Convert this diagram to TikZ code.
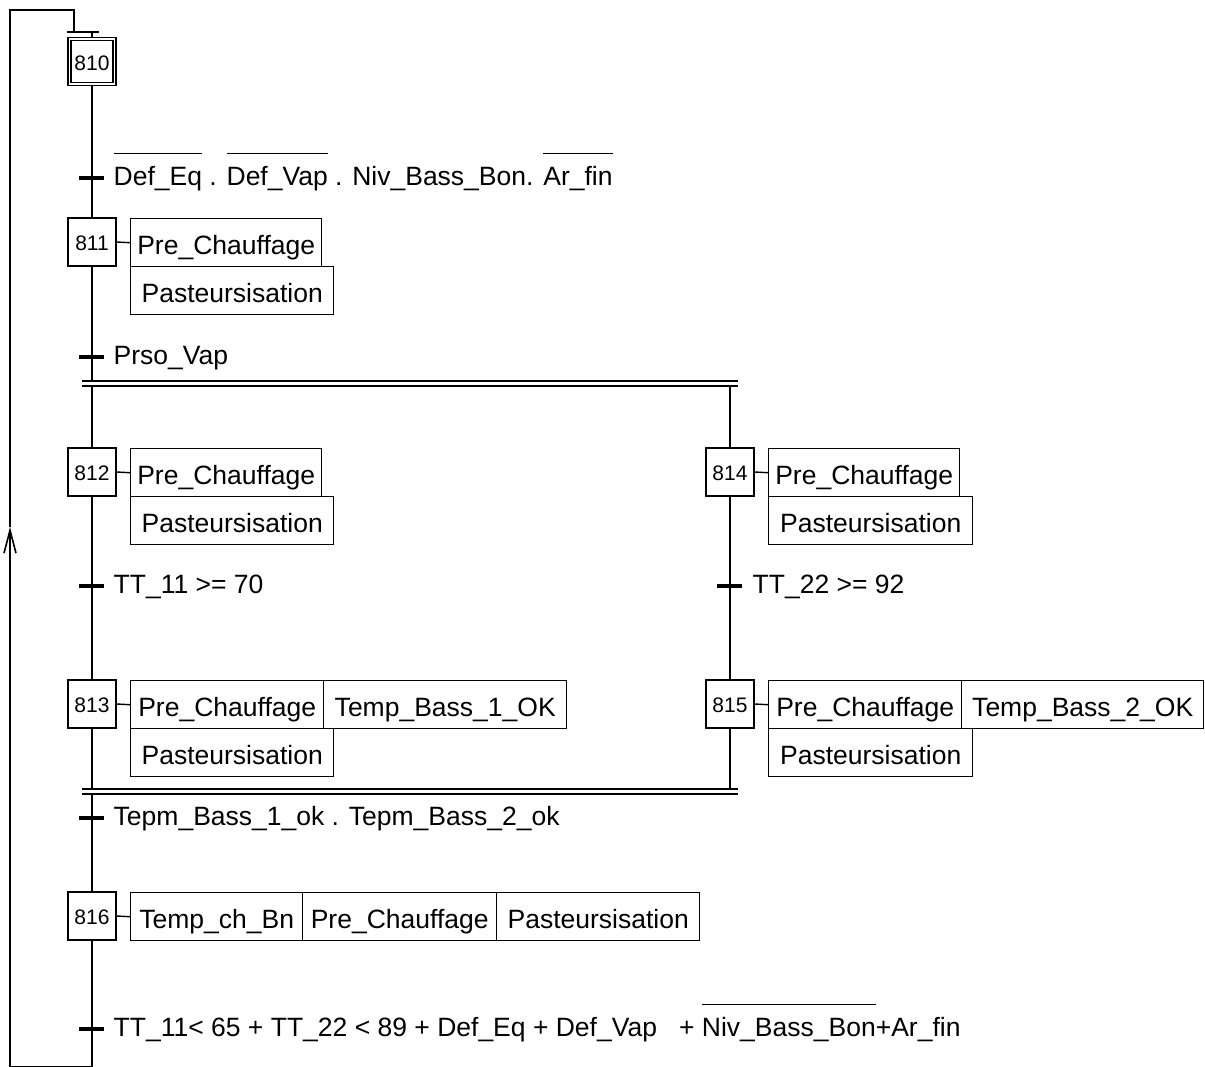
\documentclass[tikz,border=0pt]{standalone}
\usepackage{fontspec}
\setmainfont{Liberation Sans}
\usetikzlibrary{arrows.meta}
\newcommand\bigf{\fontsize{26.5}{30}\selectfont}
\newsavebox\ovlbox
\newcommand\ovl[1]{\sbox\ovlbox{#1}\rlap{\rule[31pt]{\wd\ovlbox}{1.1pt}}\usebox\ovlbox}
\begin{document}
\begin{tikzpicture}[x=1pt,y=-1pt,line width=1.4pt,
  stepbox/.style={draw,minimum width=48pt,minimum height=48pt,inner sep=0pt,text height=17pt,text depth=0pt,font=\fontsize{21}{23}\selectfont},
  actbox/.style={draw,anchor=north west,minimum height=48pt,inner sep=0pt,text height=26pt,text depth=2pt,font=\bigf},
  trtick/.style={line width=3.5pt},
  trlab/.style={anchor=base west,inner sep=0pt,font=\bigf},
  wire/.style={line width=1.6pt}]
\useasboundingbox (0,0) rectangle (1205,1066);
% steps
\node[stepbox,double,double distance=1.8pt,line width=1.2pt,minimum width=45pt,minimum height=45pt] (s810) at (92,61.5) {810};
\node[stepbox] (s811) at (92,242) {811};
\node[stepbox] (s812) at (92,472) {812};
\node[stepbox] (s814) at (730,472) {814};
\node[stepbox] (s813) at (92,704) {813};
\node[stepbox] (s815) at (730,704) {815};
\node[stepbox] (s816) at (92,916) {816};
% actions
\node[actbox,minimum width=191pt] (a811a) at (130,218) {Pre\_Chauffage};
\node[actbox,minimum width=203pt] (a811b) at (130,266) {Pasteursisation};
\node[actbox,minimum width=191pt] (a812a) at (130,448) {Pre\_Chauffage};
\node[actbox,minimum width=203pt] (a812b) at (130,496) {Pasteursisation};
\node[actbox,minimum width=191pt] (a814a) at (768,448) {Pre\_Chauffage};
\node[actbox,minimum width=204pt] (a814b) at (768,496) {Pasteursisation};
\node[actbox,minimum width=193pt] (a813a) at (130,680) {Pre\_Chauffage};
\node[actbox,minimum width=243pt] (a813c) at (323,680) {Temp\_Bass\_1\_OK};
\node[actbox,minimum width=203pt] (a813b) at (130,728) {Pasteursisation};
\node[actbox,minimum width=193pt] (a815a) at (768,680) {Pre\_Chauffage};
\node[actbox,minimum width=242pt] (a815c) at (961,680) {Temp\_Bass\_2\_OK};
\node[actbox,minimum width=204pt] (a815b) at (768,728) {Pasteursisation};
\node[actbox,minimum width=172pt] (a816a) at (130,892) {Temp\_ch\_Bn};
\node[actbox,minimum width=194pt] (a816b) at (302,892) {Pre\_Chauffage};
\node[actbox,minimum width=203pt] (a816c) at (496,892) {Pasteursisation};
\foreach \s in {811,812,814,813,815,816} \draw (s\s.east) -- (a\s a.west);
% coordinates
\coordinate (top) at (92,32);
\coordinate (barL) at (67,32);
\coordinate (barR) at (99,32);
\coordinate (t1) at (92,178);
\coordinate (t2) at (92,357);
\coordinate (dv1) at (92,381);
\coordinate (dvL) at (82,381);
\coordinate (dvR) at (738,381);
\coordinate (dvL2) at (82,386);
\coordinate (dvR2) at (738,386);
\coordinate (db1) at (92,386);
\coordinate (db2) at (730,386);
\coordinate (t3) at (92,586);
\coordinate (t4) at (730,586);
\coordinate (cv1) at (92,789);
\coordinate (cv2) at (730,789);
\coordinate (cvL) at (82,789);
\coordinate (cvR) at (738,789);
\coordinate (cvL2) at (82,794);
\coordinate (cvR2) at (738,794);
\coordinate (cvo) at (92,794);
\coordinate (t5) at (92,818);
\coordinate (t6) at (92,1029);
\coordinate (lpB) at (92,1066.6);
\coordinate (lpL) at (10,1066.6);
\coordinate (arr) at (10,527);
\coordinate (ltL) at (10,10);
\coordinate (ltR) at (74,10);
\coordinate (ltB) at (74,32);
% links
\draw[line width=1.8pt] (barL) -- (barR);
\draw[wire] (top) -- (s810);
\draw[wire] (s810) -- (t1) -- (s811);
\draw[wire] (s811) -- (t2) -- (dv1);
\draw (dvL) -- (dvR);
\draw (dvL2) -- (dvR2);
\draw[wire] (db1) -- (s812);
\draw[wire] (db2) -- (s814);
\draw[wire] (s812) -- (t3) -- (s813);
\draw[wire] (s814) -- (t4) -- (s815);
\draw[wire] (s813) -- (cv1);
\draw[wire] (s815) -- (cv2);
\draw (cvL) -- (cvR);
\draw (cvL2) -- (cvR2);
\draw[wire] (cvo) -- (t5) -- (s816);
\draw[wire] (s816) -- (t6) -- (lpB) -- (lpL);
\draw[wire,-{Straight Barb[length=23pt,width=12pt]}] (lpL) -- (arr);
\draw[wire] (arr) -- (ltL) -- (ltR) -- (ltB);
% transition ticks
\foreach \t in {t1,t2,t3,t4,t5,t6} \draw[trtick] ([xshift=-13pt]\t) -- ([xshift=12pt]\t);
% transition labels
\node[trlab] (l1) at (113,185) {\ovl{Def\_Eq} . \ovl{Def\_Vap} . Niv\_Bass\_Bon. \ovl{Ar\_fin}};
\node[trlab] (l2) at (113,364) {Prso\_Vap};
\node[trlab] (l3) at (113,593) {TT\_11 >= 70};
\node[trlab] (l4) at (752,593) {TT\_22 >= 92};
\node[trlab] (l5) at (113,825) {Tepm\_Bass\_1\_ok . Tepm\_Bass\_2\_ok};
\node[trlab] (l6) at (113,1036) {TT\_11< 65 + TT\_22 < 89 + Def\_Eq + Def\_Vap\ \ \ + \ovl{Niv\_Bass\_Bon}+Ar\_fin};
\end{tikzpicture}
\end{document}
